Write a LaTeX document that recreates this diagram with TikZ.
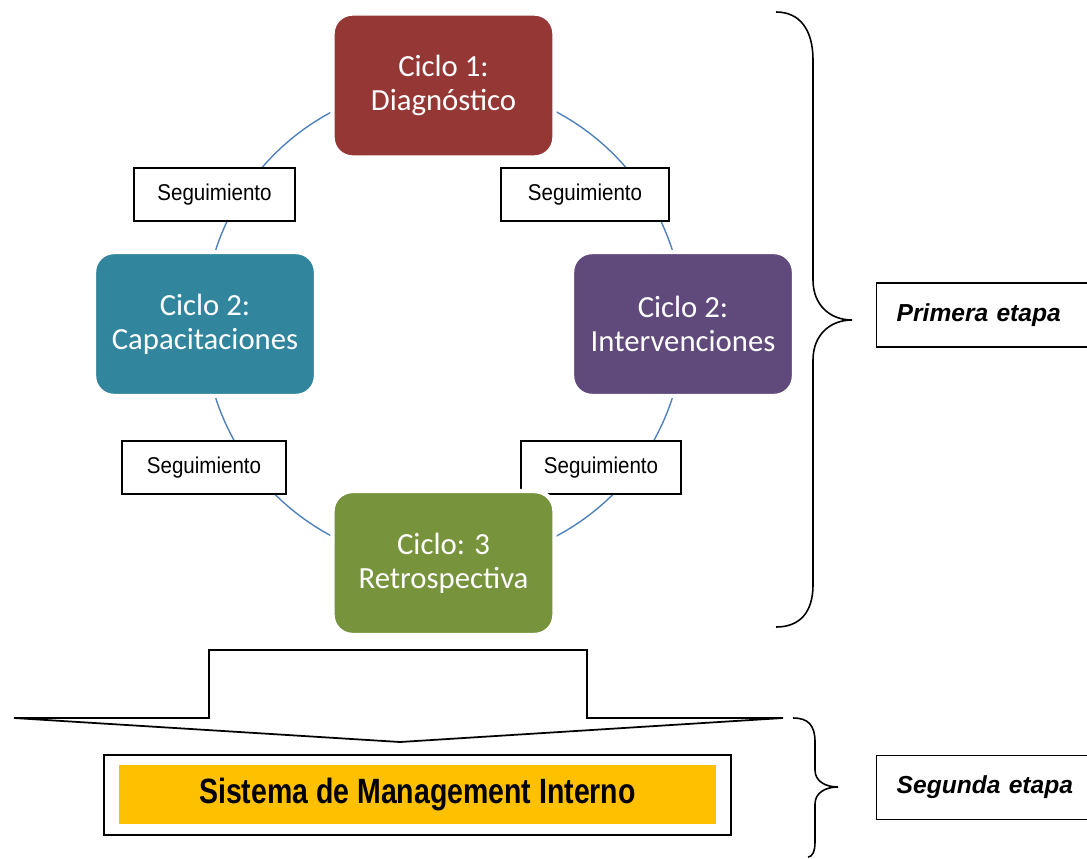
\documentclass[tikz,border=0pt]{standalone}
\usepackage{fontspec}
\setmainfont{Carlito}
\newfontfamily\arialfont{Liberation Sans}
\newfontfamily\arialnarrow[FakeStretch=0.9]{Liberation Sans}
\newfontfamily\arialcond[FakeStretch=0.81]{Liberation Sans}
\definecolor{cicloRed}{HTML}{953735}
\definecolor{cicloTeal}{HTML}{31859C}
\definecolor{cicloPurple}{HTML}{604A7B}
\definecolor{cicloGreen}{HTML}{77933C}
\definecolor{lineBlue}{HTML}{4F81BD}
\definecolor{sisYellow}{HTML}{FFC000}
\begin{document}
\begin{tikzpicture}[x=0.02cm,y=-0.02cm,
    ciclo/.style={rounded corners=0.4cm,draw=white,line width=2.5pt,text=white,align=center,
        minimum width=4.44cm,minimum height=2.88cm,font=\fontsize{17.5}{19.5}\selectfont},
    seg/.style={draw,fill=white,line width=0.9pt,minimum height=1.06cm,
        font=\arialnarrow\fontsize{13}{15}\selectfont},
    etapa/.style={draw,line width=0.8pt,anchor=west,minimum height=1.28cm,text width=3.8cm,
        inner xsep=0.4cm,align=left,font=\arialfont\bfseries\itshape\fontsize{14}{16}\selectfont}]
    \useasboundingbox (0,0) rectangle (1087,858);
    % cycle
    \coordinate (O) at (444,324);
    \draw[lineBlue,line width=0.8pt] (O) circle (4.8cm);
    \node[seg,minimum width=3.22cm] (s1) at (214.5,194.5) {Seguimiento};
    \node[seg,minimum width=3.36cm] (s2) at (585,194.5) {Seguimiento};
    \node[seg,minimum width=3.28cm] (s3) at (204,467.5) {Seguimiento};
    \node[seg,minimum width=3.2cm] (s4) at (601,467.5) {Seguimiento};
    \node[ciclo,fill=cicloRed] (c1) at (443.5,85.5) {Ciclo 1:\\Diagnóstico};
    \node[ciclo,fill=cicloTeal] (c2) at (205,324) {Ciclo 2:\\Capacitaciones};
    \node[ciclo,fill=cicloPurple] (c3) at (683,324) {Ciclo 2:\\Intervenciones};
    \node[ciclo,fill=cicloGreen] (c4) at (443.5,563) {Ciclo: 3\\Retrospectiva};
    % braces
    \draw[line width=0.9pt] (776,12) .. controls (800,12) and (813,30) .. (813,60) -- (813,280)
        .. controls (813,305) and (830,320) .. (852,320)
        .. controls (830,320) and (813,335) .. (813,360) -- (813,585)
        .. controls (813,612) and (800,627) .. (776,627);
    \draw[line width=0.9pt] (793,718) .. controls (808,718) and (815,725) .. (815,742) -- (815,770)
        .. controls (815,781) and (825,787) .. (838,787)
        .. controls (825,787) and (815,793) .. (815,804) -- (815,842)
        .. controls (815,852) and (812,857) .. (808,857);
    \node[etapa] (e1) at (876,315) {Primera etapa};
    \node[etapa] (e2) at (876,787.5) {Segunda etapa};
    % arrow down
    \draw[line width=1pt,line join=miter] (209,650) -- (587,650) -- (587,718) -- (783,718)
        -- (400,742) -- (14,718) -- (209,718) -- cycle;
    \node[draw,line width=0.9pt,minimum width=12.54cm,minimum height=1.6cm] (sisbox) at (417.5,795) {};
    \node[fill=sisYellow,minimum width=11.94cm,minimum height=1.18cm,
        font=\arialcond\bfseries\fontsize{20}{22}\selectfont] (sistema) at (417.5,794.5)
        {Sistema de Management Interno};
\end{tikzpicture}
\end{document}
